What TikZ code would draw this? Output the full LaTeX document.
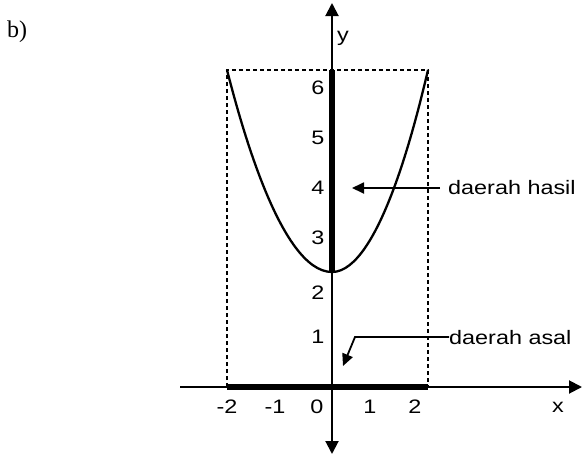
\documentclass[tikz,border=0pt]{standalone}
\usepackage{fontspec}
\setmainfont[FakeStretch=1.2]{Liberation Sans}
\newfontfamily\labelfont{Liberation Serif}
\usetikzlibrary{arrows.meta}

\tikzset{
  axis/.style={line width=2pt},
  pointer/.style={line width=1.8pt, -{Triangle[length=12pt,width=11pt]}},
  guide/.style={line width=1.6pt, dash pattern=on 4pt off 3pt},
}

\begin{document}
\begin{tikzpicture}[x=1pt, y=-1pt, every node/.style={font=\fontsize{19.5}{22}\selectfont}]
        \useasboundingbox (0,0) rectangle (582,456);
        \coordinate (o) at (332,387);
        \coordinate (xl) at (180,387);
        \coordinate (xr) at (582,387);
        \coordinate (yt) at (332,3);
        \coordinate (yb) at (332,454);
        \coordinate (a) at (227,387);
        \coordinate (b) at (428,387);
        \coordinate (p) at (227,70);
        \coordinate (q) at (428,70);
        \coordinate (t) at (332,70);
        \coordinate (v) at (332,272);

        \draw[guide] (a) -- (p) -- (q) -- (b);
        \draw[line width=2.3pt] (p) parabola bend (v) (q);
        \draw[line width=6pt] (a) -- (b);
        \draw[line width=6pt] (t) -- (v);
        \draw[axis, -{Triangle[length=13pt,width=13pt]}] (xl) -- (xr);
        \draw[axis, {Triangle[length=13pt,width=13pt]}-{Triangle[length=13pt,width=13pt]}] (yb) -- (yt);

        \foreach \v/\px in {-2/227,-1/275,0/317,1/370,2/415}
          \node (x\v) at (\px,407) {\v};
        \foreach \v/\py in {1/337,2/293,3/238,4/188,5/138,6/88}
          \node (y\v) at (318,\py) {\v};
        \node (xlab) at (558,407) {x};
        \node (ylab) at (343,38) {y};

        \node[anchor=west, inner sep=0pt] (hasil) at (448,188) {daerah hasil};
        \coordinate (hasiltip) at (352,188);
        \draw[pointer] (440,188) -- (hasiltip);

        \node[anchor=west, inner sep=0pt] (asal) at (449,338) {daerah asal};
        \coordinate (asalbend) at (355,337);
        \coordinate (asaltip) at (343,366);
        \draw[pointer] (asal.west |- asalbend) -- (asalbend) -- (asaltip);

        \node[font=\labelfont\fontsize{24}{26}\selectfont] (part) at (17,32) {b)};
    \end{tikzpicture}
\end{document}
